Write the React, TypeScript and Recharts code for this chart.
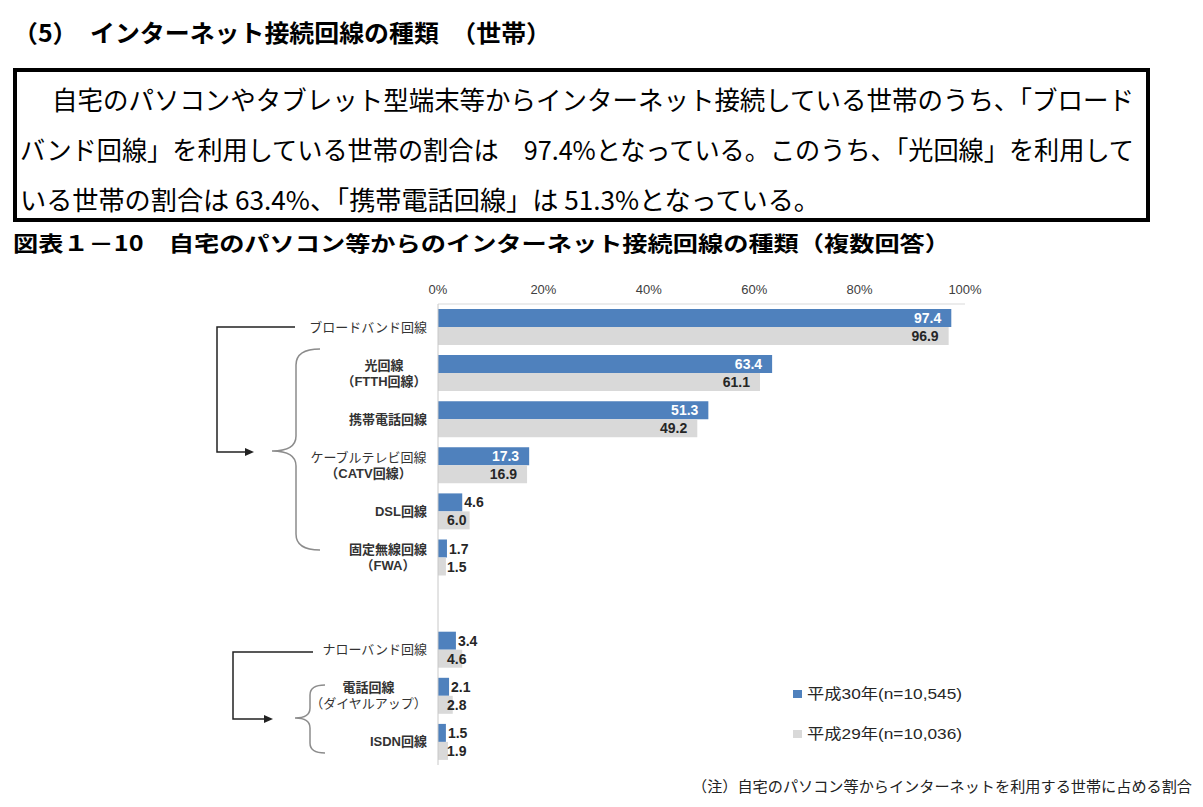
import { BarChart, Bar, XAxis, YAxis, LabelList } from 'recharts'

// カテゴリ（空文字は区切りの空行）
const categories = [
  'ブロードバンド回線',
  '光回線\n（FTTH回線）',
  '携帯電話回線',
  'ケーブルテレビ回線\n（CATV回線）',
  'DSL回線',
  '固定無線回線\n（FWA）',
  '',
  'ナローバンド回線',
  '電話回線\n（ダイヤルアップ）',
  'ISDN回線',
]
const h30 = [97.4, 63.4, 51.3, 17.3, 4.6, 1.7, null, 3.4, 2.1, 1.5]
const h29 = [96.9, 61.1, 49.2, 16.9, 6.0, 1.5, null, 4.6, 2.8, 1.9]
const xTicks = [0, 20, 40, 60, 80, 100]
const seriesNames = ['平成30年(n=10,545)', '平成29年(n=10,036)']

const data = categories.map((name, i) => ({ name, h30: h30[i], h29: h29[i] }))

const BLUE = '#4F81BD'
const GRAY = '#D9D9D9'
const FONT = "'Liberation Sans', Arial, 'Noto Sans CJK JP', sans-serif"
const JP = "'Noto Sans CJK JP', 'Liberation Sans', sans-serif"

const textWidth = (s: string) =>
  [...s].reduce((a, c) => a + (c.charCodeAt(0) < 256 ? 8.5 : 13), 0)

function CategoryTick(props: any) {
  const { x, y, payload } = props
  const lines = String(payload.value).split('\n').filter((l) => l)
  if (!lines.length) return null
  const weight = (l: string) => (/[\u30A0-\u30FF]/.test(l) ? 'normal' : 'bold')
  if (lines.length === 1) {
    return (
      <text x={x} y={y} textAnchor="end" dominantBaseline="central" fontSize={13} fill="#333" fontFamily={FONT} fontWeight={weight(lines[0])}>
        {lines[0]}
      </text>
    )
  }
  const maxW = Math.max(...lines.map(textWidth))
  const cx = x - maxW / 2
  return (
    <g>
      {lines.map((l, i) => (
        <text key={i} x={cx} y={y - 8 + i * 16} textAnchor="middle" dominantBaseline="central" fontSize={13} fill="#333" fontFamily={FONT} fontWeight={weight(l)}>
          {l}
        </text>
      ))}
    </g>
  )
}

const makeLabel = (innerColor: string, smallAtBase: boolean) => (props: any) => {
  const { x, y, width, height, value } = props
  if (value == null) return null
  const cy = y + height / 2
  const common = { dominantBaseline: 'central' as const, fontSize: 14, fontWeight: 'bold', fontFamily: FONT }
  if (value >= 10) {
    return (
      <text x={x + width - 10} y={cy} textAnchor="end" fill={innerColor} {...common}>
        {Number(value).toFixed(1)}
      </text>
    )
  }
  const lx = smallAtBase ? x + 9 : x + width + 2
  return (
    <text x={lx} y={cy} textAnchor="start" fill="#262626" {...common}>
      {Number(value).toFixed(1)}
    </text>
  )
}

export default function App() {
  return (
    <div style={{ position: 'absolute', left: 0, top: 0, width: 1203, height: 807, background: '#fff' }}>
      <div style={{ position: 'absolute', left: 0, top: 0 }}>
        <BarChart
          width={1203}
          height={807}
          data={data}
          layout="vertical"
          margin={{ top: 284, right: 238, bottom: 42, left: 0 }}
          barGap={0}
        >
          <XAxis
            type="number"
            orientation="top"
            domain={[0, 100]}
            ticks={xTicks}
            tickFormatter={(v) => `${v}%`}
            height={20}
            axisLine={{ stroke: '#d9d9d9' }}
            tickLine={false}
            tickSize={0}
            tickMargin={10}
            tick={{ fill: '#404040', fontSize: 13, fontFamily: FONT }}
          />
          <YAxis
            type="category"
            dataKey="name"
            width={438}
            axisLine={{ stroke: '#c8c8c8' }}
            tickLine={false}
            tickSize={0}
            tickMargin={11}
            interval={0}
            tick={<CategoryTick />}
          />
          <Bar dataKey="h30" name={seriesNames[0]} fill={BLUE} barSize={18} isAnimationActive={false}>
            <LabelList dataKey="h30" content={makeLabel('#fff', false)} />
          </Bar>
          <Bar dataKey="h29" name={seriesNames[1]} fill={GRAY} barSize={18} isAnimationActive={false}>
            <LabelList dataKey="h29" content={makeLabel('#262626', true)} />
          </Bar>
        </BarChart>
      </div>
      <svg width={1203} height={807} style={{ position: 'absolute', left: 0, top: 0, pointerEvents: 'none' }}>
        <text x={13} y={42} fontSize={24} fontWeight="bold" fontFamily={JP} textLength={538} lengthAdjust="spacingAndGlyphs">
          （5）　インターネット接続回線の種類　（世帯）
        </text>
        <rect x={15} y={70} width={1133} height={150} fill="none" stroke="#000" strokeWidth={4} />
        <text x={52} y={110} fontSize={26} fontFamily={JP} textLength={1082} lengthAdjust="spacingAndGlyphs">
          自宅のパソコンやタブレット型端末等からインターネット接続している世帯のうち、「ブロード
        </text>
        <text x={20} y={160} fontSize={26} fontFamily={JP} textLength={1114} lengthAdjust="spacingAndGlyphs">
          バンド回線」を利用している世帯の割合は　97.4%となっている。このうち、「光回線」を利用して
        </text>
        <text x={20} y={210} fontSize={26} fontFamily={JP} textLength={800} lengthAdjust="spacingAndGlyphs">
          いる世帯の割合は 63.4%、「携帯電話回線」は 51.3%となっている。
        </text>
        <text x={13} y={251} fontSize={21} fontWeight="bold" fontFamily={JP} textLength={937} lengthAdjust="spacingAndGlyphs">
          図表１－10　自宅のパソコン等からのインターネット接続回線の種類（複数回答）
        </text>

        {/* 括弧・矢印 */}
        <polyline points="295,327 217,327 217,452 247,452" fill="none" stroke="#222" strokeWidth={1.5} />
        <polygon points="254,452 245,448 245,456" fill="#222" />
        <path d="M320,349 Q296,349 296,365 L296,436 Q296,451 272,451 Q296,451 296,466 L296,534 Q296,550 320,550" fill="none" stroke="#8c8c8c" strokeWidth={1.5} />
        <polyline points="313,652 233,652 233,719 266,719" fill="none" stroke="#222" strokeWidth={1.5} />
        <polygon points="273,719 264,715 264,723" fill="#222" />
        <path d="M325,685 Q310,685 310,695 L310,708 Q310,718 295,718 Q310,718 310,728 L310,743 Q310,753 325,753" fill="none" stroke="#8c8c8c" strokeWidth={1.5} />

        {/* 凡例 */}
        <rect x={793} y={690} width={9} height={8} fill={BLUE} />
        <text x={807} y={699} fontSize={15} fill="#262626" fontFamily={FONT} textLength={155} lengthAdjust="spacingAndGlyphs">
          {seriesNames[0]}
        </text>
        <rect x={793} y={730} width={9} height={8} fill={GRAY} />
        <text x={807} y={739} fontSize={15} fill="#262626" fontFamily={FONT} textLength={155} lengthAdjust="spacingAndGlyphs">
          {seriesNames[1]}
        </text>

        <text x={692} y={792} fontSize={15} fill="#222" fontFamily={JP} textLength={500} lengthAdjust="spacingAndGlyphs">
          （注）自宅のパソコン等からインターネットを利用する世帯に占める割合
        </text>
      </svg>
    </div>
  )
}
